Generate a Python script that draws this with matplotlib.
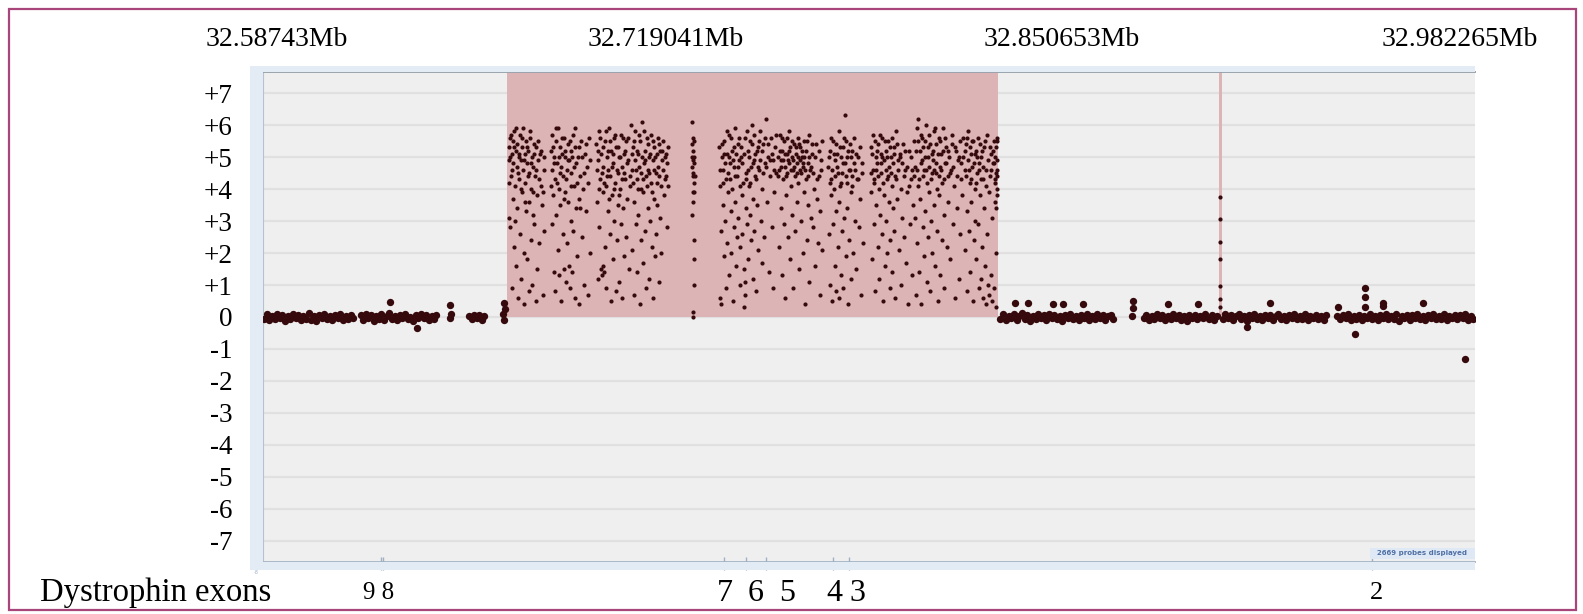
import matplotlib
matplotlib.use("Agg")
import matplotlib.pyplot as plt
from matplotlib.patches import Rectangle

W, H = 1583, 614
plt.rcParams['font.family'] = ['Liberation Serif', 'DejaVu Serif']

# window shown, in Mb, and its width in kb
window_start = 32.58743
window_kb = 394.835
position_labels = ["32.58743Mb", "32.719041Mb", "32.850653Mb", "32.982265Mb"]
position_ticks_kb = [0.0, 131.611, 263.223, 394.835]

# called gains (kb from window start)
gain_regions = [(79.5, 239.3), (311.4, 312.3)]

# probes: (kb from window start, log2 ratio)
normal_left = [
    (0.3, -0.05), (1.2, 0.08), (2.0, -0.1), (2.9, 0.04), (3.8, -0.07), (4.5, 0.1), (5.4, -0.02),
    (6.3, 0.06), (7.1, -0.11), (8.0, 0.03), (8.9, -0.06), (9.7, 0.09), (10.6, -0.03), (11.4, 0.07),
    (12.3, -0.09), (13.1, 0.02), (14.0, -0.05), (14.9, 0.11), (15.7, -0.08), (16.6, 0.04),
    (17.4, -0.12), (18.3, 0.06), (19.1, -0.02), (20.0, 0.08), (20.9, -0.07), (21.7, 0.03),
    (22.6, -0.1), (23.4, 0.05), (24.3, -0.04), (25.1, 0.1), (26.0, -0.08), (26.9, 0.02),
    (27.7, -0.06), (28.6, 0.07), (29.4, -0.03),
    (31.8, 0.05), (32.6, -0.08), (33.5, 0.1), (34.3, -0.02), (35.2, 0.06), (36.0, -0.11),
    (36.9, 0.03), (37.7, -0.05), (38.6, 0.08), (39.4, -0.09), (40.3, 0.02), (41.2, 0.12),
    (42.0, -0.06), (42.9, 0.04), (43.7, -0.1), (44.6, 0.07), (45.4, -0.03), (46.3, 0.09),
    (47.1, -0.07), (48.0, 0.01), (48.9, -0.12), (49.7, 0.06), (50.6, -0.04), (51.4, 0.08),
    (52.3, -0.02), (53.1, 0.05), (54.0, -0.09), (54.9, 0.03), (55.7, -0.06), (56.5, 0.07),
    (41.4, 0.47), (50.2, -0.34),
    (60.8, -0.04), (61.3, 0.08), (60.9, 0.37),
    (67.2, 0.02), (68.0, -0.06), (68.8, 0.05), (69.6, -0.03), (70.4, 0.07), (71.2, -0.08), (72.0, 0.03),
    (78.2, 0.1), (78.5, -0.08), (78.6, 0.45), (78.9, 0.25),
]

gained = [
    # 79.7 - 91.9 kb
    (80.0, 5.3), (80.2, 4.9), (80.3, 3.1), (80.5, 5.6), (80.6, 2.8), (80.8, 4.4), (81.0, 5.1),
    (81.1, 0.9), (81.3, 5.5), (81.4, 3.7), (81.6, 4.8), (81.8, 2.2), (81.9, 5.8), (82.1, 4.1),
    (82.3, 5.2), (82.4, 1.6), (82.6, 4.7), (82.8, 5.4), (82.9, 3.4), (83.1, 0.6), (83.3, 5.0),
    (83.4, 4.3), (83.6, 5.7), (83.8, 2.6), (83.9, 4.9), (84.1, 1.2), (84.3, 5.3), (84.4, 3.9),
    (84.6, 4.6), (84.8, 5.9), (84.9, 0.4), (85.1, 2.0), (85.3, 5.1), (85.5, 4.2), (85.6, 3.3),
    (85.8, 5.5), (86.0, 1.8), (86.1, 4.8), (86.3, 5.2), (86.5, 0.8), (86.7, 3.6), (86.8, 4.5),
    (87.0, 5.6), (87.2, 2.4), (87.3, 4.0), (87.5, 5.0), (87.7, 1.0), (87.9, 4.7), (88.0, 3.2),
    (88.2, 5.4), (88.4, 2.9), (88.6, 4.4), (88.8, 0.5), (89.0, 5.3), (89.2, 3.8), (89.4, 1.5),
    (89.6, 4.9), (89.9, 2.3), (90.2, 5.1), (90.5, 4.1), (90.8, 3.5), (91.1, 0.7), (91.4, 4.6),
    (91.7, 2.7),
    (80.1, 4.2), (80.4, 5.0), (80.9, 5.7), (81.2, 4.6), (81.7, 5.3), (82.0, 3.0), (82.5, 5.9),
    (83.0, 4.5), (83.5, 5.1), (84.0, 4.0), (84.5, 5.6), (85.0, 4.9), (85.4, 3.6), (85.9, 5.3),
    (86.4, 4.4), (86.9, 5.8), (87.4, 4.8), (87.8, 3.9), (88.3, 5.1), (88.9, 4.6), (89.5, 5.5),
    (90.0, 4.3), (90.6, 5.2), (91.2, 3.9), (91.6, 5.0),
    # 93.6 - 106.7 kb
    (93.8, 5.2), (94.0, 4.6), (94.1, 2.9), (94.3, 5.7), (94.5, 3.8), (94.7, 1.4), (94.9, 5.0),
    (95.0, 4.3), (95.2, 0.8), (95.4, 5.5), (95.6, 3.2), (95.8, 4.8), (96.0, 2.1), (96.1, 5.9),
    (96.3, 4.0), (96.5, 1.3), (96.7, 5.3), (96.9, 3.5), (97.0, 4.7), (97.2, 0.5), (97.4, 5.1),
    (97.6, 2.6), (97.8, 4.4), (98.0, 5.6), (98.1, 1.5), (98.3, 3.9), (98.5, 5.0), (98.7, 1.1),
    (98.9, 4.6), (99.1, 2.3), (99.2, 5.4), (99.4, 3.6), (99.6, 1.6), (99.8, 4.9), (100.0, 0.9),
    (100.2, 5.2), (100.3, 3.0), (100.5, 4.5), (100.7, 1.4), (100.9, 5.7), (101.1, 2.7),
    (101.3, 4.1), (101.5, 0.6), (101.7, 5.3), (101.9, 3.4), (102.1, 4.8), (102.3, 1.9),
    (102.5, 5.0), (102.8, 3.7), (103.0, 0.4), (103.3, 4.4), (103.6, 5.5), (103.9, 2.5),
    (104.2, 4.0), (104.5, 1.0), (104.8, 5.1), (105.1, 3.3), (105.4, 4.7), (105.8, 0.7),
    (106.2, 5.6), (106.5, 2.0),
    (93.9, 4.1), (94.4, 5.3), (94.8, 4.8), (95.3, 5.9), (95.9, 4.2), (96.4, 5.0), (96.8, 4.5),
    (97.3, 5.6), (97.9, 3.7), (98.4, 5.2), (98.8, 4.3), (99.3, 4.9), (99.9, 5.5), (100.4, 4.1),
    (100.8, 5.0), (101.4, 4.7), (101.8, 5.9), (102.4, 4.2), (102.9, 5.3), (103.4, 3.4),
    (104.0, 5.0), (104.6, 4.5), (105.2, 5.4), (105.9, 4.2), (106.4, 4.9),
    # 108.4 - 119.9 kb
    (108.6, 5.4), (108.8, 3.6), (109.0, 4.9), (109.2, 1.2), (109.4, 5.8), (109.6, 2.8),
    (109.8, 4.3), (110.0, 1.5), (110.2, 5.1), (110.4, 1.3), (110.6, 3.9), (110.7, 1.6),
    (110.9, 4.7), (111.1, 1.4), (111.3, 5.5), (111.5, 2.2), (111.7, 4.1), (111.9, 0.9),
    (112.1, 5.0), (112.3, 3.3), (112.5, 4.6), (112.7, 5.9), (112.9, 2.6), (113.1, 4.4),
    (113.3, 0.5), (113.5, 5.2), (113.7, 3.8), (113.9, 1.8), (114.1, 4.8), (114.3, 5.6),
    (114.5, 3.0), (114.7, 4.2), (114.9, 0.8), (115.1, 5.3), (115.3, 2.4), (115.5, 4.5),
    (115.7, 3.5), (115.9, 5.0), (116.1, 1.1), (116.3, 4.0), (116.5, 5.7), (116.7, 2.9),
    (116.9, 4.7), (117.1, 0.6), (117.3, 3.4), (117.5, 5.1), (117.7, 1.9), (117.9, 4.3),
    (118.1, 2.5), (118.3, 5.5), (118.6, 3.7), (118.9, 4.9), (119.2, 1.5), (119.5, 4.1),
    (119.8, 6.0),
    (108.7, 4.6), (109.1, 5.2), (109.5, 4.0), (109.9, 5.6), (110.3, 4.5), (110.8, 5.3),
    (111.2, 4.2), (111.6, 5.8), (112.0, 4.4), (112.4, 5.2), (112.8, 3.7), (113.2, 5.5),
    (113.6, 4.7), (114.0, 5.1), (114.4, 4.0), (114.8, 5.7), (115.2, 4.6), (115.6, 5.3),
    (116.0, 3.8), (116.4, 5.0), (116.8, 4.3), (117.2, 5.6), (117.6, 4.5), (118.0, 5.2),
    (118.5, 4.8), (119.0, 5.6), (119.4, 4.4),
    # 119.9 - 132.1 kb
    (120.1, 4.6), (120.3, 2.1), (120.5, 5.3), (120.7, 3.6), (120.9, 0.7), (121.1, 4.9),
    (121.3, 5.8), (121.5, 2.9), (121.7, 4.3), (121.9, 1.4), (122.1, 5.1), (122.3, 3.2),
    (122.5, 4.7), (122.7, 0.4), (122.9, 5.5), (123.1, 2.4), (123.3, 4.0), (123.5, 6.1),
    (123.7, 3.9), (123.9, 1.7), (124.1, 4.8), (124.3, 5.2), (124.5, 2.7), (124.7, 4.4),
    (124.9, 0.9), (125.1, 5.6), (125.3, 3.4), (125.5, 4.6), (125.7, 1.2), (125.9, 5.0),
    (126.1, 3.0), (126.3, 4.2), (126.5, 5.7), (126.7, 2.2), (126.9, 4.9), (127.1, 0.6),
    (127.3, 3.7), (127.5, 5.3), (127.7, 1.9), (127.9, 4.5), (128.1, 2.6), (128.3, 5.1),
    (128.5, 3.5), (128.7, 4.7), (128.9, 1.1), (129.1, 5.4), (129.3, 3.1), (129.5, 4.1),
    (129.8, 2.0), (130.1, 5.2), (130.4, 4.6), (130.7, 3.8), (131.0, 5.0), (131.2, 4.4),
    (131.5, 2.8), (131.7, 4.8), (131.9, 5.3),
    (120.2, 5.1), (120.6, 4.2), (121.0, 5.5), (121.4, 4.6), (121.8, 5.2), (122.2, 4.0),
    (122.6, 5.7), (123.0, 4.5), (123.4, 5.0), (123.8, 4.3), (124.2, 5.8), (124.6, 4.9),
    (125.0, 4.1), (125.4, 5.4), (125.8, 4.5), (126.2, 5.1), (126.6, 3.9), (127.0, 5.5),
    (127.4, 4.6), (127.8, 5.0), (128.2, 4.2), (128.6, 5.6), (129.0, 4.4), (129.4, 5.2),
    (129.9, 4.9), (130.3, 5.5), (130.8, 4.3), (131.3, 5.1), (131.8, 4.1),
    # 139 - 141.3 kb
    (139.6, 6.1), (139.8, 5.4), (140.0, 4.9), (140.1, 5.2), (140.2, 4.5), (140.3, 5.0),
    (140.4, 4.2), (139.9, 4.7), (140.5, 3.9), (140.2, 3.6), (140.0, 5.6), (140.6, 4.4),
    (140.3, 2.4), (140.5, 1.8), (140.4, 1.0), (140.1, 0.15), (140.2, 0.0), (139.8, 3.2),
    (139.7, 5.0), (140.0, 4.4), (140.3, 5.5), (140.4, 4.8), (140.1, 3.9),
    # 148.5 - 167.6 kb
    (148.7, 5.3), (148.8, 0.6), (149.0, 4.1), (149.1, 0.4), (149.3, 2.7), (149.5, 5.0),
    (149.7, 3.5), (149.9, 4.6), (150.1, 1.9), (150.3, 5.5), (150.5, 3.0), (150.7, 4.3),
    (150.9, 0.9), (151.1, 5.1), (151.3, 2.3), (151.5, 3.9), (151.7, 5.7), (151.9, 1.3),
    (152.1, 4.8), (152.3, 3.3), (152.5, 2.0), (152.7, 5.2), (152.9, 4.0), (153.1, 0.5),
    (153.3, 2.8), (153.5, 4.7), (153.7, 5.9), (153.9, 3.6), (154.1, 1.6), (154.3, 4.4),
    (154.5, 2.5), (154.7, 5.4), (154.9, 3.1), (155.1, 4.9), (155.3, 2.2), (155.5, 1.0),
    (155.7, 5.0), (155.9, 3.8), (156.1, 2.6), (156.3, 4.2), (156.6, 1.5), (156.8, 0.3),
    (156.9, 1.1), (157.0, 0.7), (157.1, 5.6), (157.3, 3.4), (157.5, 4.5), (157.7, 2.9),
    (157.9, 5.2), (158.1, 1.8), (158.3, 4.1), (158.5, 3.2), (158.7, 5.5), (158.9, 2.4),
    (159.1, 4.7), (159.3, 6.0), (159.5, 3.7), (159.7, 1.2), (159.9, 4.9), (160.1, 2.7),
    (160.3, 5.1), (160.5, 4.3), (160.7, 0.8), (160.9, 3.5), (161.1, 5.3), (161.3, 2.1),
    (161.5, 4.6), (161.8, 5.8), (162.1, 3.0), (162.4, 4.0), (162.7, 1.7), (163.0, 5.4),
    (163.3, 2.5), (163.6, 4.8), (163.9, 6.2), (164.2, 3.6), (164.5, 5.0), (164.8, 1.4),
    (165.1, 4.4), (165.4, 5.6), (165.7, 2.8), (166.0, 4.9), (166.3, 0.9), (166.6, 3.9),
    (166.9, 5.3), (167.2, 4.5),
    (148.9, 4.6), (149.4, 5.4), (149.8, 4.2), (150.2, 5.1), (150.6, 4.8), (151.0, 5.8),
    (151.4, 4.5), (151.8, 5.0), (152.2, 4.3), (152.6, 5.6), (153.0, 4.9), (153.4, 5.3),
    (153.8, 4.4), (154.2, 5.1), (154.6, 4.7), (155.0, 5.6), (155.4, 4.1), (155.8, 5.3),
    (156.2, 4.8), (156.7, 5.1), (157.2, 4.3), (157.6, 5.8), (158.0, 4.6), (158.4, 5.0),
    (158.8, 4.2), (159.2, 5.4), (159.6, 4.8), (160.0, 5.7), (160.4, 4.4), (160.8, 5.2),
    (161.2, 4.7), (161.6, 5.5), (162.0, 4.9), (162.5, 5.2), (163.0, 4.5), (163.5, 5.6),
    (164.0, 4.7), (164.6, 5.4), (165.2, 4.9), (165.8, 5.1), (166.4, 4.6), (167.0, 5.7),
    # 167.6 - 182.4 kb
    (167.8, 5.0), (168.0, 2.2), (168.2, 4.6), (168.4, 5.7), (168.6, 3.4), (168.8, 4.9),
    (169.0, 1.3), (169.2, 5.2), (169.4, 4.3), (169.6, 2.9), (169.8, 5.5), (170.0, 4.7),
    (170.2, 0.6), (170.4, 3.8), (170.6, 5.1), (170.8, 4.5), (171.0, 2.5), (171.2, 5.8),
    (171.4, 4.8), (171.6, 1.8), (171.8, 5.3), (172.0, 4.1), (172.2, 3.2), (172.4, 5.0),
    (172.6, 4.6), (172.8, 0.9), (173.0, 5.4), (173.2, 4.4), (173.4, 2.7), (173.6, 5.1),
    (173.8, 4.8), (174.0, 3.6), (174.2, 5.6), (174.4, 4.2), (174.6, 1.5), (174.8, 4.9),
    (175.0, 5.3), (175.2, 3.0), (175.4, 4.5), (175.6, 5.0), (175.8, 2.0), (176.0, 4.7),
    (176.2, 5.5), (176.4, 3.9), (176.6, 0.4), (176.8, 4.3), (177.0, 5.2), (177.2, 2.4),
    (177.4, 4.8), (177.6, 3.5), (177.8, 5.7), (178.0, 1.1), (178.3, 4.6), (178.6, 3.1),
    (178.9, 5.1), (179.2, 2.8), (179.5, 4.0), (179.8, 1.6), (180.1, 5.4), (180.4, 3.7),
    (180.7, 2.3), (181.0, 4.4), (181.3, 0.7), (181.6, 3.3), (181.9, 4.9), (182.2, 2.1),
    (167.9, 4.4), (168.3, 5.2), (168.7, 4.7), (169.1, 5.6), (169.5, 4.9), (169.9, 5.1),
    (170.3, 4.4), (170.7, 5.6), (171.1, 4.9), (171.5, 5.2), (171.9, 4.6), (172.3, 5.5),
    (172.7, 4.9), (173.1, 4.7), (173.5, 5.3), (173.9, 4.5), (174.3, 5.0), (174.7, 5.4),
    (175.1, 4.6), (175.5, 5.2), (175.9, 4.8), (176.3, 5.0), (176.7, 4.6), (177.1, 5.5),
    (177.5, 4.4), (177.9, 5.0), (178.4, 4.7), (178.8, 5.4), (179.3, 4.5), (179.9, 5.0),
    (180.5, 4.3), (181.1, 5.2), (181.7, 4.6), (182.1, 5.5),
    # 184 - 195.5 kb
    (184.2, 4.7), (184.4, 2.6), (184.6, 5.2), (184.8, 1.0), (185.0, 3.8), (185.2, 4.3),
    (185.4, 0.5), (185.6, 5.5), (185.8, 2.9), (186.0, 4.0), (186.2, 1.6), (186.4, 4.9),
    (186.6, 3.3), (186.8, 0.8), (187.0, 5.1), (187.2, 2.2), (187.4, 4.5), (187.6, 3.6),
    (187.8, 0.6), (188.0, 5.3), (188.2, 1.3), (188.4, 4.2), (188.6, 2.7), (188.8, 4.8),
    (189.0, 0.9), (189.2, 3.1), (189.4, 5.6), (189.6, 6.3), (189.8, 4.4), (190.0, 1.9),
    (190.2, 5.0), (190.4, 3.4), (190.6, 0.4), (190.8, 4.6), (191.0, 2.4), (191.2, 5.4),
    (191.4, 3.9), (191.6, 1.2), (191.8, 4.1), (192.0, 5.2), (192.3, 2.0), (192.6, 4.8),
    (192.9, 3.0), (193.2, 1.5), (193.5, 4.3), (193.8, 5.0), (194.1, 2.8), (194.4, 3.7),
    (194.7, 0.7), (195.0, 4.5), (195.3, 2.3),
    (184.3, 5.0), (184.7, 4.2), (185.1, 5.6), (185.5, 4.6), (185.9, 5.1), (186.3, 4.4),
    (186.7, 5.4), (187.1, 4.7), (187.5, 5.8), (187.9, 4.1), (188.3, 5.0), (188.7, 4.5),
    (189.1, 5.3), (189.5, 4.8), (189.9, 5.5), (190.3, 4.2), (190.7, 5.2), (191.1, 4.6),
    (191.5, 5.0), (191.9, 4.4), (192.4, 5.6), (192.8, 4.6), (193.3, 5.1), (193.9, 4.3),
    (194.5, 5.3), (195.1, 4.8),
    # 197.8 - 211.9 kb
    (198.0, 5.3), (198.2, 3.9), (198.4, 1.8), (198.6, 4.6), (198.8, 5.7), (199.0, 2.9),
    (199.2, 4.2), (199.4, 0.8), (199.6, 5.0), (199.8, 3.5), (200.0, 4.8), (200.2, 2.2),
    (200.4, 5.4), (200.6, 4.0), (200.8, 1.2), (201.0, 3.2), (201.2, 5.1), (201.4, 4.5),
    (201.6, 2.6), (201.8, 5.6), (202.0, 0.5), (202.2, 3.8), (202.4, 4.9), (202.6, 1.6),
    (202.8, 5.2), (203.0, 3.0), (203.2, 4.3), (203.4, 2.0), (203.6, 5.5), (203.8, 3.6),
    (204.0, 4.7), (204.2, 0.9), (204.4, 2.4), (204.6, 5.0), (204.8, 4.1), (205.0, 1.4),
    (205.2, 3.4), (205.4, 5.3), (205.6, 2.7), (205.8, 4.4), (206.0, 0.6), (206.2, 5.8),
    (206.5, 3.7), (206.8, 4.9), (207.1, 2.1), (207.4, 5.1), (207.7, 1.0), (208.0, 4.0),
    (208.3, 3.1), (208.6, 5.4), (208.9, 2.5), (209.2, 4.6), (209.5, 1.7), (209.8, 3.9),
    (210.1, 0.4), (210.4, 5.2), (210.7, 2.9), (211.0, 4.3), (211.3, 1.3), (211.6, 3.5),
    (198.1, 4.5), (198.5, 5.1), (198.9, 4.3), (199.3, 5.5), (199.7, 4.6), (200.1, 5.2),
    (200.5, 4.4), (200.9, 5.7), (201.3, 4.8), (201.7, 5.0), (202.1, 4.2), (202.5, 5.5),
    (202.9, 4.6), (203.3, 5.0), (203.7, 4.4), (204.1, 5.3), (204.5, 4.5), (204.9, 5.6),
    (205.3, 4.8), (205.7, 5.1), (206.1, 4.3), (206.6, 5.4), (207.0, 4.6), (207.5, 5.0),
    (208.1, 4.8), (208.7, 4.4), (209.3, 5.2), (209.9, 4.7), (210.5, 4.1), (211.1, 5.0),
    (211.5, 4.6),
    # 211.9 - 228.4 kb
    (212.1, 5.5), (212.3, 3.1), (212.5, 4.7), (212.7, 0.7), (212.9, 5.9), (213.1, 2.3),
    (213.3, 4.1), (213.5, 6.2), (213.7, 1.4), (213.9, 5.2), (214.1, 3.7), (214.3, 4.8),
    (214.5, 0.4), (214.7, 5.6), (214.9, 2.8), (215.1, 4.4), (215.3, 1.9), (215.5, 5.0),
    (215.7, 3.3), (215.9, 6.0), (216.1, 4.6), (216.3, 1.1), (216.5, 5.3), (216.7, 2.5),
    (216.9, 3.9), (217.1, 5.7), (217.3, 0.8), (217.5, 4.3), (217.7, 3.0), (217.9, 5.1),
    (218.1, 2.0), (218.3, 4.9), (218.5, 5.8), (218.7, 3.5), (218.9, 1.6), (219.1, 4.5),
    (219.3, 5.4), (219.5, 2.7), (219.7, 4.0), (219.9, 0.5), (220.1, 5.6), (220.3, 3.8),
    (220.5, 4.7), (220.7, 1.3), (220.9, 5.1), (221.1, 2.4), (221.3, 4.2), (221.5, 5.9),
    (221.7, 3.2), (221.9, 0.9), (222.1, 4.8), (222.4, 5.3), (222.7, 2.2), (223.0, 4.4),
    (223.3, 3.6), (223.6, 5.0), (223.9, 1.8), (224.2, 4.6), (224.5, 5.7), (224.8, 2.9),
    (225.1, 4.1), (225.4, 0.6), (225.7, 5.2), (226.0, 3.4), (226.3, 4.9), (226.6, 1.2),
    (226.9, 5.5), (227.2, 2.6), (227.5, 4.3), (227.8, 3.8), (228.1, 5.0),
    (212.2, 4.4), (212.6, 5.2), (213.0, 4.6), (213.4, 5.5), (213.8, 4.3), (214.2, 5.7),
    (214.6, 4.9), (215.0, 5.3), (215.4, 4.6), (215.8, 5.5), (216.2, 4.2), (216.6, 5.0),
    (217.0, 4.7), (217.4, 5.4), (217.8, 4.5), (218.2, 5.2), (218.6, 4.6), (219.0, 5.9),
    (219.4, 4.8), (219.8, 5.1), (220.2, 4.4), (220.6, 5.5), (221.0, 4.6), (221.4, 5.2),
    (221.8, 4.3), (222.2, 5.6), (222.6, 4.8), (223.1, 5.2), (223.7, 4.5), (224.3, 5.4),
    (224.9, 4.7), (225.5, 5.3), (226.1, 4.4), (226.7, 5.0), (227.3, 4.8), (227.9, 5.6),
    # 228.4 - 239.3 kb
    (228.6, 4.6), (228.8, 2.1), (229.0, 5.4), (229.2, 3.3), (229.4, 0.8), (229.6, 4.9),
    (229.8, 5.8), (230.0, 2.7), (230.2, 4.2), (230.4, 1.4), (230.6, 5.1), (230.8, 3.6),
    (231.0, 4.7), (231.2, 0.5), (231.4, 5.5), (231.6, 2.4), (231.8, 4.0), (232.0, 3.0),
    (232.2, 5.2), (232.4, 1.8), (232.6, 4.5), (232.8, 5.6), (233.0, 2.9), (233.2, 0.9),
    (233.4, 4.8), (233.6, 3.8), (233.8, 1.2), (234.0, 5.0), (234.2, 2.2), (234.4, 4.3),
    (234.6, 0.6), (234.8, 5.3), (235.0, 3.4), (235.2, 1.6), (235.4, 4.6), (235.6, 0.4),
    (235.8, 2.6), (236.0, 5.7), (236.2, 1.0), (236.4, 3.9), (236.6, 0.7), (236.8, 4.4),
    (237.0, 1.3), (237.2, 5.1), (237.4, 0.5), (237.6, 3.1), (237.8, 4.8), (238.0, 0.9),
    (238.2, 5.5), (238.4, 4.2), (238.5, 3.6), (238.6, 5.0), (238.7, 4.5), (238.8, 2.0),
    (238.9, 5.3), (239.0, 4.0), (239.1, 3.8), (239.2, 4.9), (238.8, 0.3), (239.1, 5.6),
    (228.7, 5.2), (229.1, 4.4), (229.5, 5.6), (229.9, 4.6), (230.3, 5.3), (230.7, 4.3),
    (231.1, 5.5), (231.5, 4.8), (231.9, 5.1), (232.3, 4.2), (232.7, 5.0), (233.1, 4.6),
    (233.5, 5.4), (233.9, 4.3), (234.3, 5.2), (234.7, 4.7), (235.1, 5.5), (235.5, 4.1),
    (236.1, 4.9), (236.7, 5.3), (237.3, 4.6), (237.9, 5.2), (238.3, 4.8), (238.6, 4.3),
    (239.0, 5.5), (239.2, 4.6), (238.9, 3.4), (239.1, 4.4),
]

spike = [(311.8, 3.75), (311.8, 3.06), (311.8, 2.34), (311.8, 1.81), (311.8, 0.97),
         (311.8, 0.56), (311.8, 0.3)]

normal_right = [
    (240.2, -0.06), (241.1, 0.08), (242.0, -0.1), (242.9, 0.04), (243.8, -0.03), (244.7, 0.09),
    (245.5, -0.08), (246.4, 0.02), (247.3, 0.11), (248.2, -0.05), (249.0, 0.06), (249.9, -0.12),
    (250.8, 0.03), (251.7, -0.07), (252.5, 0.08), (253.4, -0.02), (254.3, 0.05), (255.2, -0.09),
    (256.0, 0.1), (256.9, -0.04), (257.8, 0.07), (258.7, -0.06), (259.5, 0.02), (260.4, -0.11),
    (261.3, 0.06), (262.2, -0.03), (263.0, 0.09), (263.9, -0.07), (264.8, 0.04), (265.7, -0.1),
    (266.5, 0.05), (267.4, -0.02), (268.3, 0.08), (269.2, -0.08), (270.0, 0.03), (270.9, -0.05),
    (271.8, 0.1), (272.7, -0.04), (273.5, 0.06), (274.4, -0.09), (275.3, 0.02), (276.2, 0.07),
    (277.0, -0.06),
    (245.0, 0.44), (249.2, 0.44), (257.4, 0.4), (260.6, 0.4), (267.1, 0.4),
    (283.2, 0.02), (283.4, 0.5), (283.5, 0.28),
    (286.9, -0.04), (287.8, 0.07), (288.7, -0.09), (289.5, 0.03), (290.4, -0.05), (291.3, 0.08),
    (292.2, -0.02), (293.0, 0.05), (293.9, -0.1), (294.8, 0.04), (295.7, -0.06), (296.5, 0.09),
    (297.4, -0.03), (298.3, 0.06), (299.2, -0.08), (300.0, 0.02), (300.9, -0.11), (301.8, 0.07),
    (302.7, -0.04), (303.5, 0.05), (304.4, -0.07), (305.3, 0.03), (306.2, -0.02), (307.0, 0.08),
    (294.8, 0.42), (304.6, 0.4),
    (308.1, -0.05), (309.0, 0.07), (309.9, -0.1), (310.7, 0.03), (312.6, -0.06), (313.5, 0.09),
    (314.3, -0.03), (315.2, 0.05), (316.1, -0.08), (316.9, 0.02), (317.8, 0.1), (318.7, -0.07),
    (319.5, 0.04), (320.4, -0.11), (321.3, 0.06), (322.1, -0.02), (323.0, 0.08), (323.9, -0.05),
    (324.7, 0.03), (325.6, -0.09), (326.5, 0.07), (327.3, -0.04), (328.2, 0.05), (329.1, -0.1),
    (329.9, 0.02), (330.8, 0.09), (331.7, -0.06), (332.5, 0.04), (333.4, -0.08), (334.3, 0.06),
    (335.1, -0.03), (336.0, 0.1), (336.9, -0.07), (337.7, 0.02), (338.6, -0.05), (339.5, 0.08),
    (340.3, -0.09), (341.2, 0.04), (342.1, -0.02), (342.9, 0.07), (343.8, -0.06), (344.7, 0.03),
    (345.5, -0.1), (346.4, 0.05),
    (320.5, -0.3), (328.0, 0.44),
    (349.9, 0.04), (350.2, 0.3),
    (351.0, -0.07), (351.9, 0.05), (352.7, -0.03), (353.6, 0.09), (354.5, -0.08), (355.3, 0.02),
    (356.2, -0.05), (357.1, 0.07), (357.9, -0.1), (358.8, 0.04), (359.7, -0.02), (360.5, 0.08),
    (361.4, -0.06), (362.3, 0.03), (363.1, -0.09), (364.0, 0.06), (364.9, -0.04), (365.7, 0.1),
    (366.6, -0.07), (367.5, 0.02), (368.3, -0.05), (369.2, 0.08), (370.1, -0.11), (370.9, 0.04),
    (371.8, -0.03), (372.7, 0.07), (373.5, -0.08), (374.4, 0.05), (375.3, -0.02), (376.1, 0.09),
    (377.0, -0.06), (377.9, 0.03), (378.7, -0.1), (379.6, 0.06), (380.5, -0.04), (381.3, 0.08),
    (382.2, -0.07), (383.1, 0.02), (383.9, -0.05), (384.8, 0.1), (385.7, -0.09), (386.5, 0.04),
    (387.4, -0.03), (388.3, 0.07), (389.1, -0.06), (390.0, 0.05), (390.9, -0.02), (391.7, 0.08),
    (392.6, -0.1), (393.5, 0.03), (394.3, -0.05),
    (355.7, -0.53), (359.0, 0.9), (359.0, 0.62), (359.0, 0.3), (364.9, 0.45), (364.9, 0.33),
    (377.9, 0.45), (391.6, -1.3),
]

# Dystrophin exons (kb from window start)
exon_kb = [38.5, 39.0, 150.2, 157.3, 163.9, 185.7, 190.9, 361.3]
exon_labels = [("9 8", 37.5, 18), ("7", 150.5, 23), ("6", 160.6, 23), ("5", 170.7, 23),
               ("4", 186.0, 23), ("3", 193.8, 23), ("2", 362.9, 19)]

y_levels = list(range(-7, 8))
y_tick_text = [("+%d" % v if v > 0 else "%d" % v) for v in y_levels]


def fx(px):
    return px / W


def fy(py):
    return 1 - py / H


fig = plt.figure(figsize=(W / 100, H / 100), dpi=100)

# outer frame
fig.patches.append(Rectangle((fx(9), fy(610)), fx(1576) - fx(9), fy(9) - fy(610),
                             transform=fig.transFigure, fill=False,
                             edgecolor='#a8457a', lw=1.6))

# light blue viewer strips round the plot area
strip = '#e3ecf5'
for x0, y0, x1, y1 in [(250, 66, 263, 570), (250, 66, 1475, 72), (250, 562, 1475, 570)]:
    fig.patches.append(Rectangle((fx(x0), fy(y1)), fx(x1) - fx(x0), fy(y0) - fy(y1),
                                 transform=fig.transFigure, facecolor=strip, edgecolor='none'))

ax = fig.add_axes([fx(263), fy(562), fx(1475) - fx(263), fy(72) - fy(562)])
ax.set_facecolor('#efefef')
ylo, yhi = -7.66, 7.66
ax.set_xlim(0, window_kb)
ax.set_ylim(ylo, yhi)

for v in y_levels:
    ax.axhline(v, color='#e0e0e0', lw=1.6, zorder=0)

zero_frac = (0 - ylo) / (yhi - ylo)
for lo, hi in gain_regions:
    ax.axvspan(lo, hi, ymin=zero_frac, ymax=1, color='#dcb4b6', lw=0, zorder=1)

for pts, size in [(normal_left, 28), (normal_right, 28), (gained, 9), (spike, 9)]:
    xs, ys = zip(*pts)
    ax.scatter(xs, ys, s=size, c='#360a0c', linewidths=0, zorder=3)

ax.set_xticks([])
ax.set_yticks(y_levels)
ax.set_yticklabels(y_tick_text)
ax.tick_params(axis='y', length=0, pad=22, labelsize=19.5)

ax.spines['right'].set_visible(False)
ax.spines['top'].set_color('#9aa4ae')
ax.spines['top'].set_linewidth(1.4)
ax.spines['left'].set_color('#b8c1cb')
ax.spines['bottom'].set_color('#aab8c8')
ax.spines['bottom'].set_linewidth(1.4)

# small tick labels inside the left strip
for v in y_levels + [-8]:
    if ylo - 0.5 <= v <= yhi:
        ax.text(-0.0055, v, "%d" % v, transform=ax.get_yaxis_transform(), ha='center',
                va='center', fontsize=3.5, color='#9db2cc', family='DejaVu Sans', clip_on=False)

# marks on the top strip
ax.vlines(position_ticks_kb[1:3], 1.0, 1.012, transform=ax.get_xaxis_transform(),
          color='#a9b3bd', lw=1, clip_on=False)

# exon marks on the bottom strip
ax.vlines(exon_kb, -0.017, 0.01, transform=ax.get_xaxis_transform(),
          color='#9fb0c2', lw=1, clip_on=False, zorder=4)
for text, xk, size in exon_labels:
    ax.text(xk, -0.064, text, transform=ax.get_xaxis_transform(), ha='center', va='center',
            fontsize=size, clip_on=False)

fig.text(fx(156), fy(593), "Dystrophin exons", ha='center', va='center', fontsize=23.5)

for label, cx in zip(position_labels, [277, 666, 1062, 1460]):
    fig.text(fx(cx), fy(40), label, ha='center', va='center', fontsize=20)

# probe count box
fig.patches.append(Rectangle((fx(1370), fy(559)), fx(1475) - fx(1370), fy(548) - fy(559),
                             transform=fig.transFigure, facecolor='#dfe9f5', edgecolor='none'))
fig.text(fx(1422), fy(553.5), "2669 probes displayed", ha='center', va='center',
         fontsize=5, color='#4f70a5', weight='bold', family='DejaVu Sans')

fig.savefig("out.png", dpi=100)
